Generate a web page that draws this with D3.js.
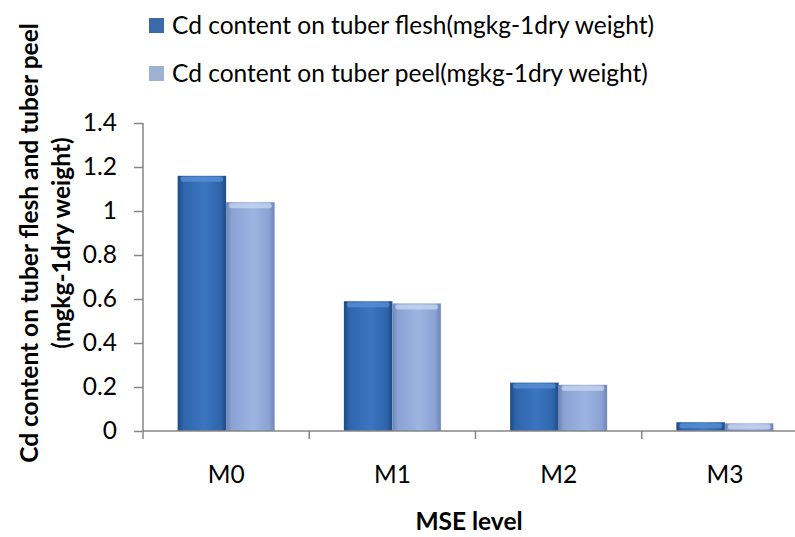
<!DOCTYPE html>
<html>
<head>
<meta charset="utf-8">
<script src="https://cdnjs.cloudflare.com/ajax/libs/d3/7.8.5/d3.min.js"></script>
<style>
  body { margin: 0; background: #fff; }
  text { font-family: Lato, "Open Sans", sans-serif; fill: #000; }
</style>
</head>
<body>
<div id="chart"></div>
<script>
// data
var categories = ['M0', 'M1', 'M2', 'M3'];
var seriesNames = ['Cd content on tuber flesh(mgkg-1dry weight)', 'Cd content on tuber peel(mgkg-1dry weight)'];
var fleshValues = [1.16, 0.59, 0.22, 0.04];
var peelValues = [1.04, 0.58, 0.21, 0.035];
var yTicks = [0, 0.2, 0.4, 0.6, 0.8, 1, 1.2, 1.4];

var width = 795, height = 537;
var fontSize = '24.5px';

var svg = d3.select('#chart').append('svg')
    .attr('width', width)
    .attr('height', height);

// gradients for the bevelled bars
var defs = svg.append('defs');
function makeGrad(id, edge, mid, light){
    var g = defs.append('linearGradient').attr('id', id)
        .attr('x1', 0).attr('x2', 1).attr('y1', 0).attr('y2', 0);
    g.append('stop').attr('offset', '0%').attr('stop-color', edge);
    g.append('stop').attr('offset', '12%').attr('stop-color', mid);
    g.append('stop').attr('offset', '55%').attr('stop-color', light);
    g.append('stop').attr('offset', '88%').attr('stop-color', mid);
    g.append('stop').attr('offset', '100%').attr('stop-color', edge);
}
makeGrad('gFlesh', '#1f4a85', '#2f65ac', '#3b75c0');
makeGrad('gPeel', '#6d86b6', '#8aa3d4', '#9cb4e0');

var colors = [
    {fill: 'url(#gFlesh)', top: '#5d93d8', legend: '#3a6aa8'},
    {fill: 'url(#gPeel)', top: '#cddcf2', legend: '#9fb2d4'}
];

// scales
var xScale = d3.scaleBand()
    .domain(categories)
    .range([143, 808]);
var yScale = d3.scaleLinear()
    .domain([0, 1.4])
    .range([431, 123]);
var barGroupWidth = 97;
var xSub = d3.scaleBand()
    .domain([0, 1])
    .range([(xScale.bandwidth() - barGroupWidth) / 2, (xScale.bandwidth() + barGroupWidth) / 2]);

var data = categories.map(function(c, i){
    return {cat: c, values: [fleshValues[i], peelValues[i]]};
});

// bars
var groups = svg.append('g').selectAll('g')
    .data(data)
    .enter()
    .append('g')
        .attr('transform', function(d){ return 'translate(' + xScale(d.cat) + ',0)'; });

groups.selectAll('rect.bar')
    .data(function(d){ return d.values.map(function(v, s){ return {v: v, s: s}; }); })
    .enter()
    .append('rect')
        .attr('class', 'bar')
        .attr('x', function(d){ return xSub(d.s); })
        .attr('y', function(d){ return yScale(d.v); })
        .attr('width', xSub.bandwidth())
        .attr('height', function(d){ return yScale(0) - yScale(d.v); })
        .attr('fill', function(d){ return colors[d.s].fill; });

// light cap on top of each bar
groups.selectAll('rect.cap')
    .data(function(d){ return d.values.map(function(v, s){ return {v: v, s: s}; }); })
    .enter()
    .append('rect')
        .attr('class', 'cap')
        .attr('x', function(d){ return xSub(d.s) + 3; })
        .attr('y', function(d){ return yScale(d.v) + 1; })
        .attr('width', xSub.bandwidth() - 6)
        .attr('height', function(d){ return Math.min(5, yScale(0) - yScale(d.v) - 1); })
        .attr('rx', 2)
        .attr('fill', function(d){ return colors[d.s].top; })
        .attr('opacity', 0.7);

// y axis
var yAxis = d3.axisLeft(yScale)
    .tickValues(yTicks)
    .tickSize(9)
    .tickPadding(17)
    .tickFormat(function(d){ return d3.format('')(d); });
var yG = svg.append('g')
    .attr('transform', 'translate(143,0)')
    .call(yAxis);
yG.selectAll('path, line').attr('stroke', '#868686').attr('stroke-width', 1.5);
yG.select('.domain').attr('d', 'M0,' + yScale(1.4) + 'V' + yScale(0));
yG.selectAll('text').style('font-size', fontSize).style('font-family', 'Lato, sans-serif');

// x axis
var xAxis = d3.axisBottom(xScale).tickSize(0).tickPadding(35);
var xG = svg.append('g')
    .attr('transform', 'translate(0,431)')
    .call(xAxis);
xG.select('.domain').attr('stroke', '#868686').attr('stroke-width', 1.5)
    .attr('d', 'M143,0H' + width);
xG.selectAll('text').style('font-size', fontSize).style('font-family', 'Lato, sans-serif');
// tick marks between categories
xG.selectAll('line.sep')
    .data(categories)
    .enter()
    .append('line')
        .attr('class', 'sep')
        .attr('x1', function(d){ return xScale(d); })
        .attr('x2', function(d){ return xScale(d); })
        .attr('y1', 0)
        .attr('y2', 8)
        .attr('stroke', '#868686')
        .attr('stroke-width', 1.5);

// axis titles
svg.append('text')
    .attr('x', 469)
    .attr('y', 530)
    .attr('text-anchor', 'middle')
    .style('font-size', fontSize)
    .style('font-weight', 'bold')
    .text('MSE level');

var yTitle = svg.append('text')
    .attr('transform', 'translate(0,243) rotate(-90)')
    .attr('text-anchor', 'middle')
    .style('font-size', fontSize)
    .style('font-weight', 'bold');
yTitle.append('tspan').attr('x', 0).attr('y', 38).text('Cd content on tuber flesh and tuber peel');
yTitle.append('tspan').attr('x', 0).attr('y', 70).text('(mgkg-1dry weight)');

// legend
var legend = svg.append('g').selectAll('g')
    .data(seriesNames)
    .enter()
    .append('g')
        .attr('transform', function(d, i){ return 'translate(149,' + (25 + i * 48) + ')'; });
legend.append('rect')
    .attr('x', 0)
    .attr('y', -7)
    .attr('width', 15)
    .attr('height', 15)
    .attr('fill', function(d, i){ return colors[i].legend; });
legend.append('text')
    .attr('x', 23)
    .attr('y', 8.5)
    .style('font-size', fontSize)
    .text(function(d){ return d; });
</script>
</body>
</html>
